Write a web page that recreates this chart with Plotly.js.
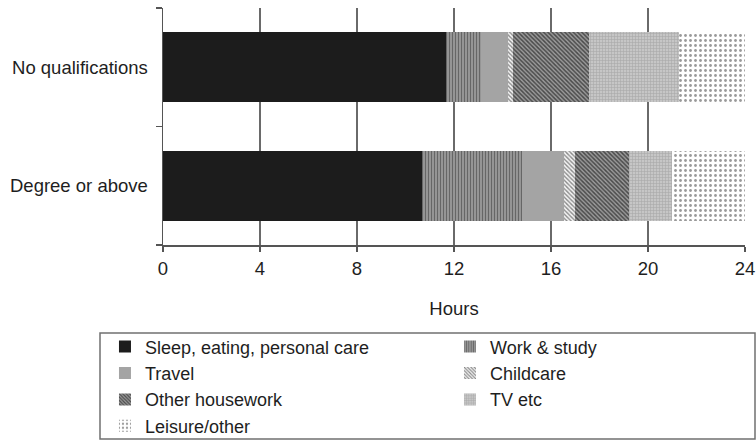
<!DOCTYPE html>
<html>
<head>
<meta charset="utf-8">
<script src="https://cdn.plot.ly/plotly-3.0.1.min.js"></script>
<style>html,body{margin:0;padding:0;background:#fff}</style>
</head>
<body>
<div id="chart" style="width:756px;height:440px"></div>
<script>
// Average hours per day by activity, split by qualification level
const groups = ['No qualifications', 'Degree or above'];
const activities = ['Sleep, eating, personal care', 'Work & study', 'Travel', 'Childcare',
                    'Other housework', 'TV etc', 'Leisure/other'];
const noQualHours = [11.67, 1.44, 1.12, 0.20, 3.14, 3.71, 2.72];
const degreeHours = [10.70, 4.09, 1.75, 0.45, 2.23, 1.78, 3.00];
const hourTicks = [0, 4, 8, 12, 16, 20, 24];

// Grey-scale fills for each activity (background, pattern shape, foreground)
const fills = [
  {bg: '#1c1c1c', shape: '',  fg: '#1c1c1c', size: 4, sol: 0.3},
  {bg: '#9a9a9a', shape: '|', fg: '#666666', size: 3, sol: 0.4},
  {bg: '#a4a4a4', shape: '',  fg: '#a4a4a4', size: 4, sol: 0.3},
  {bg: '#f4f4f4', shape: '\\', fg: '#8a8a8a', size: 3, sol: 0.45},
  {bg: '#9c9c9c', shape: '\\', fg: '#4a4a4a', size: 3, sol: 0.5},
  {bg: '#c6c6c6', shape: '+', fg: '#a8a8a8', size: 3, sol: 0.35},
  {bg: '#ffffff', shape: '.', fg: '#9a9a9a', size: 5, sol: 0.25}
];
// Which legend column each activity sits in
const legendColumn = ['legend', 'legend2', 'legend', 'legend2', 'legend', 'legend2', 'legend'];

const traces = activities.map((name, i) => ({
  type: 'bar',
  orientation: 'h',
  name: name,
  y: groups,
  x: [noQualHours[i], degreeHours[i]],
  width: 0.59,
  legend: legendColumn[i],
  hoverinfo: 'x+name',
  marker: {
    color: fills[i].bg,
    line: {width: 0},
    pattern: {
      shape: fills[i].shape,
      fgcolor: fills[i].fg,
      bgcolor: fills[i].bg,
      size: fills[i].size,
      solidity: fills[i].sol,
      fillmode: 'replace'
    }
  }
}));

const font = {family: '"Liberation Sans", Arial, sans-serif', size: 18.5, color: '#1e1e1e'};
const legendFont = Object.assign({}, font, {size: 18});
const legendBase = {
  orientation: 'v',
  traceorder: 'normal',
  bgcolor: 'rgba(0,0,0,0)',
  borderwidth: 0,
  font: legendFont,
  xanchor: 'left',
  yanchor: 'top',
  y: -0.352,
  tracegroupgap: 0
};

const layout = {
  width: 756,
  height: 440,
  margin: {l: 163, r: 11, t: 8, b: 195, autoexpand: false},
  paper_bgcolor: '#ffffff',
  plot_bgcolor: '#ffffff',
  font: font,
  barmode: 'stack',
  showlegend: true,
  xaxis: {
    range: [0, 24],
    tickvals: hourTicks,
    ticktext: hourTicks.map(String),
    showgrid: true,
    gridcolor: '#6a6a6a',
    gridwidth: 1.5,
    zeroline: false,
    showline: true,
    linecolor: '#555555',
    linewidth: 1.5,
    ticks: 'outside',
    ticklen: 5,
    tickwidth: 1.5,
    tickcolor: '#555555',
    ticklabelstandoff: 1,
    tickfont: font,
    automargin: false,
    title: {text: 'Hours', font: font, standoff: 24}
  },
  yaxis: {
    type: 'category',
    categoryorder: 'array',
    categoryarray: ['Degree or above', 'No qualifications'],
    range: [-0.5, 1.5],
    tickson: 'boundaries',
    showgrid: false,
    zeroline: false,
    showline: true,
    linecolor: '#555555',
    linewidth: 1.5,
    ticks: 'outside',
    ticklen: 6,
    tickwidth: 1.5,
    tickcolor: '#555555',
    ticklabelstandoff: 10,
    automargin: false,
    tickfont: font
  },
  legend: Object.assign({}, legendBase, {x: -0.0997}),
  legend2: Object.assign({}, legendBase, {x: 0.4931}),
  shapes: [{
    type: 'rect',
    xref: 'paper', yref: 'paper',
    x0: (100 - 163) / 582, x1: (755 - 163) / 582,
    y0: (245 - 333) / 237, y1: (245 - 439) / 237,
    line: {color: '#707070', width: 1.5},
    fillcolor: 'rgba(0,0,0,0)',
    layer: 'below'
  }]
};

Plotly.newPlot('chart', traces, layout, {displayModeBar: false, staticPlot: true});
</script>
</body>
</html>
